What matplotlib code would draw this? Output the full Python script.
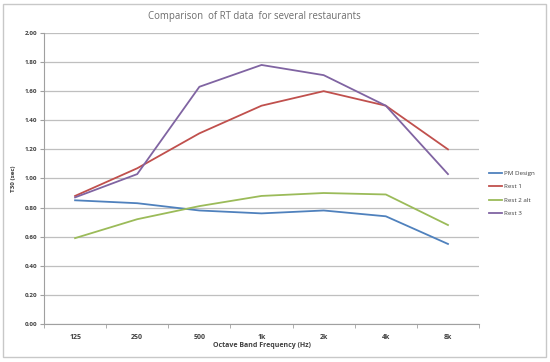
import matplotlib
matplotlib.use("Agg")
from matplotlib import pyplot as plt
from matplotlib.patches import Rectangle
import numpy as np

plt.rcParams['font.family'] = ['Open Sans', 'DejaVu Sans']

bands = ['125', '250', '500', '1k', '2k', '4k', '8k']
pm_design = [0.85, 0.83, 0.78, 0.76, 0.78, 0.74, 0.55]
rest_1 = [0.88, 1.07, 1.31, 1.50, 1.60, 1.50, 1.20]
rest_2_alt = [0.59, 0.72, 0.81, 0.88, 0.90, 0.89, 0.68]
rest_3 = [0.87, 1.03, 1.63, 1.78, 1.71, 1.50, 1.03]

series = [
    ('PM Design', pm_design, '#4F81BD'),
    ('Rest 1', rest_1, '#C0504D'),
    ('Rest 2 alt', rest_2_alt, '#9BBB59'),
    ('Rest 3', rest_3, '#8064A2'),
]

fig = plt.figure(figsize=(5.5, 3.62), dpi=100)
fig.patches.append(Rectangle((0.006, 0.013), 0.987, 0.975, transform=fig.transFigure,
                             fill=False, edgecolor='#c8c8c8', linewidth=1.0))
ax = fig.add_axes([0.08, 0.105, 0.791, 0.804])

x = np.arange(len(bands))
for name, vals, col in series:
    ax.plot(x, vals, color=col, linewidth=1.3, label=name)

ax.set_xlim(-0.5, len(bands) - 0.5)
ax.set_ylim(0, 2.0)
ax.set_yticks(np.arange(0, 2.01, 0.2))
ax.set_yticklabels(['%.2f' % v for v in np.arange(0, 2.01, 0.2)],
                   fontsize=4.5, fontweight='bold', color='#404040')
ax.set_xticks(x)
ax.set_xticklabels(bands, fontsize=5, fontweight='bold', color='#404040')
ax.set_xticks(np.arange(-0.5, len(bands)), minor=True)
ax.tick_params(axis='x', which='major', length=0, pad=7)
ax.tick_params(axis='x', which='minor', length=3, color='#a0a0a0')
ax.tick_params(axis='y', length=3, color='#a0a0a0', pad=2)

ax.grid(axis='y', color='#bfbfbf', linewidth=0.9)
ax.set_axisbelow(True)
for s in ['top', 'right']:
    ax.spines[s].set_visible(False)
for s in ['left', 'bottom']:
    ax.spines[s].set_color('#a0a0a0')
    ax.spines[s].set_linewidth(0.8)

ax.set_xlabel('Octave Band Frequency (Hz)', fontsize=5, fontweight='bold',
              color='#404040', labelpad=1)
ax.set_ylabel('T30 (sec)', fontsize=4.5, fontweight='bold', color='#404040', labelpad=6)

fig.text(0.463, 0.955, 'Comparison  of RT data  for several restaurants',
         ha='center', va='center', fontsize=6.9, color='#6d6d6d')

fig.legend(loc='upper left', bbox_to_anchor=(0.878, 0.545), frameon=False,
           fontsize=4.5, handlelength=2.2, handletextpad=0.3, labelspacing=1.3,
           labelcolor='#404040')

fig.savefig('out.png', dpi=100)
